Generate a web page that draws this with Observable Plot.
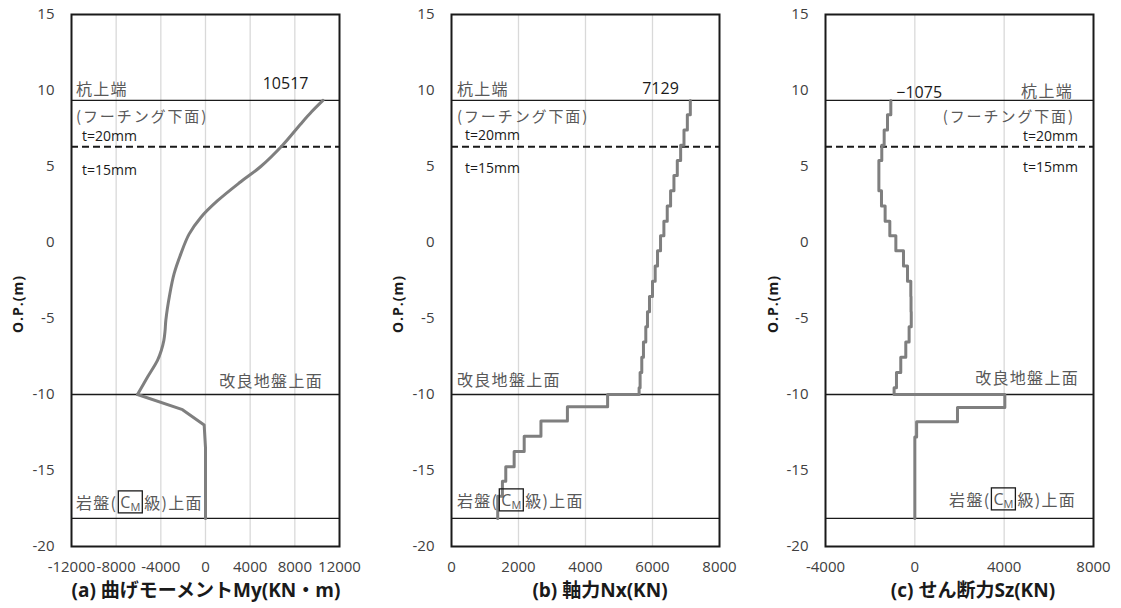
<!DOCTYPE html>
<html><head><meta charset="utf-8">
<script src="https://cdn.jsdelivr.net/npm/d3@7"></script>
<script src="https://cdn.jsdelivr.net/npm/@observablehq/plot@0.6"></script>
<style>
body{margin:0;background:#fff;}
#wrap{position:relative;width:1121px;height:608px;overflow:hidden;background:#fff;}
#wrap svg{position:absolute;top:0;}
</style></head><body><div id="wrap"></div>
<script>
// ---------- data ----------
const yTicks = [-20, -15, -10, -5, 0, 5, 10, 15];
const pileTopLevel = 9.35;       // 杭上端
const thicknessLevel = 6.3;      // t=20mm / t=15mm
const improvedLevel = -10;       // 改良地盤上面
const rockLevel = -18.15;        // 岩盤上面

// (a) bending moment
const momentUpperDepth = [9.35, 8.6, 7.8, 6.4, 5.0, 4.0, 2.75, 1.65, 0.55, -0.75, -2.05, -3.4, -5.1, -5.8, -6.45, -7.1, -7.75, -8.85, -10];
const momentUpperValue = [10517, 9500, 8530, 6900, 4950, 3160, 1080, -420, -1470, -2210, -2810, -3200, -3550, -3620, -3730, -3960, -4300, -5190, -6090];
const momentLowerDepth = [-10, -11, -12, -13.5, -18.15];
const momentLowerValue = [-6090, -2060, -120, 0, 0];

// step boundaries (upper pile part)
const stepDepthUpper = [9.35, 8.4, 7.4, 6.4, 5.4, 4.4, 3.4, 2.4, 1.4, 0.45, -0.55, -1.55, -2.55, -3.55, -4.55, -5.55, -6.55, -7.55, -8.55, -9.55, -10];

// (b) axial force
const axialUpper = [7129, 7040, 6940, 6840, 6740, 6640, 6540, 6440, 6340, 6240, 6150, 6080, 6000, 5910, 5850, 5800, 5730, 5680, 5630, 5600];
const axialLowerDepth = [-10, -10.8, -11.75, -12.75, -13.75, -14.75, -15.7, -16.7, -18.15];
const axialLower = [4660, 3460, 2670, 2170, 1870, 1620, 1520, 1380];

// (c) shear force
const shearUpper = [-1075, -1224, -1373, -1480, -1610, -1610, -1493, -1330, -1120, -850, -508, -328, -180, -170, -160, -256, -405, -630, -822, -928];
const shearLowerDepth = [-10, -10.85, -11.8, -12.8, -18.15];
const shearLower = [4030, 1910, 80, 0];

const xTicksA = [-12000, -8000, -4000, 0, 4000, 8000, 12000];
const xTicksB = [0, 2000, 4000, 6000, 8000];
const xTicksC = [-4000, 0, 4000, 8000];

const titleA = "(a) 曲げモーメントMy(KN・m)";
const titleB = "(b) 軸力Nx(KN)";
const titleC = "(c) せん断力Sz(KN)";
const yTitle = "O.P.(m)";

// ---------- helpers ----------
const FONT = '"Open Sans","Noto Sans CJK JP",sans-serif';
const JFONT = '"Noto Sans CJK JP","Noto Sans",sans-serif';
const CURVE = "#7f7f7f";
const DARK = "#1a1a1a";

function stepPoints(depths, values) {
  const pts = [];
  values.forEach((v, i) => { pts.push({x: v, y: depths[i]}); pts.push({x: v, y: depths[i + 1]}); });
  return pts;
}
function zipPoints(depths, values) { return depths.map((d, i) => ({x: values[i], y: d})); }

const wrap = document.getElementById("wrap");

function panel(cfg) {
  const inner = cfg.xTicks.filter(t => t > cfg.xTicks[0] && t < cfg.xTicks[cfg.xTicks.length - 1]);
  const chart = Plot.plot({
    width: cfg.width, height: 608,
    marginLeft: cfg.ml, marginRight: cfg.mr, marginTop: 14, marginBottom: 62,
    style: {fontFamily: FONT, fontSize: "15px", color: "#404040", background: "transparent", overflow: "visible"},
    x: {domain: [cfg.xTicks[0], cfg.xTicks[cfg.xTicks.length - 1]], ticks: cfg.xTicks, tickFormat: d => String(d), tickSize: 0, tickPadding: 15, label: null},
    y: {domain: [-20, 15], ticks: yTicks, tickFormat: d => String(d), tickSize: 0, tickPadding: 17, label: null},
    marks: [
      Plot.ruleX(inner, {stroke: "#d9d9d9", strokeWidth: 1.3}),
      Plot.ruleY([pileTopLevel, improvedLevel, rockLevel], {stroke: DARK, strokeWidth: 1.3}),
      Plot.ruleY([thicknessLevel], {stroke: DARK, strokeWidth: 2, strokeDasharray: "7,4"}),
      ...cfg.lines,
      Plot.frame({stroke: DARK, strokeWidth: 2})
    ]
  });
  chart.style.left = cfg.left + "px";
  wrap.appendChild(chart);
  const sx = chart.scale("x").apply, sy = chart.scale("y").apply;
  const L = cfg.ml, R = cfg.width - cfg.mr;
  const svg = d3.select(chart);
  const g = svg.append("g").attr("text-anchor", "start");

  function jtext(str, x, y, anchor, size = 16, ls = 1.3) {
    return g.append("text").attr("x", x).attr("y", y).attr("text-anchor", anchor)
      .attr("dominant-baseline", "central").attr("font-family", JFONT).attr("font-size", size)
      .attr("letter-spacing", ls).attr("fill", "#595959").text(str);
  }
  function ltext(str, x, y, anchor, size = 14) {
    return g.append("text").attr("x", x).attr("y", y).attr("text-anchor", anchor)
      .attr("dominant-baseline", "central").attr("font-family", FONT).attr("font-size", size)
      .attr("fill", "#1a1a1a").text(str);
  }
  function rockLabel(x, y, anchor) {
    const rg = g.append("g").attr("text-anchor", "start");
    const base = (str, xx, yy, fam, size, ls) => rg.append("text").attr("x", xx).attr("y", yy)
      .attr("text-anchor", "start").attr("dominant-baseline", "central").attr("font-family", fam)
      .attr("font-size", size).attr("letter-spacing", ls).attr("fill", "#595959").text(str);
    const t1 = base("岩盤(", 0, y, JFONT, 16, 1.3);
    const w1 = t1.node().getComputedTextLength();
    const bx = w1 + 1;
    const c = base("C", bx + 2, y, FONT, 16, 0);
    const wc = c.node().getComputedTextLength();
    const m = base("M", bx + 2 + wc, y + 5, FONT, 11, 0);
    const wm = m.node().getComputedTextLength();
    const bw = wc + wm + 4;
    rg.append("rect").attr("x", bx).attr("y", y - 11).attr("width", bw).attr("height", 22)
      .attr("fill", "none").attr("stroke", DARK).attr("stroke-width", 1.3);
    const t3 = base("級)上面", bx + bw + 2, y, JFONT, 16, 1.3);
    const total = bx + bw + 2 + t3.node().getComputedTextLength();
    rg.attr("transform", `translate(${anchor === "end" ? x - total : x},0)`);
  }
  cfg.annotate({jtext, ltext, rockLabel, sx, sy, L, R});

  // axis titles
  g.append("text").attr("x", (L + R) / 2 + cfg.titleShift).attr("y", 590).attr("text-anchor", "middle")
    .attr("dominant-baseline", "central").attr("font-family", FONT).attr("font-size", 19)
    .attr("font-weight", "bold").attr("fill", "#1a1a1a").text(cfg.title);
  g.append("text").attr("transform", `translate(${cfg.yTitleX},304) rotate(-90)`).attr("text-anchor", "middle")
    .attr("dominant-baseline", "central").attr("font-family", FONT).attr("font-size", 14)
    .attr("letter-spacing", 1).attr("font-weight", "bold").attr("fill", "#1a1a1a").text(yTitle);
  return chart;
}

// (a)
panel({
  left: 0, width: 373, ml: 71, mr: 34, xTicks: xTicksA, title: titleA, titleShift: 1, yTitleX: 17,
  lines: [
    Plot.line(zipPoints(momentUpperDepth, momentUpperValue), {x: "x", y: "y", stroke: CURVE, strokeWidth: 3, curve: "catmull-rom"}),
    Plot.line(zipPoints(momentLowerDepth, momentLowerValue), {x: "x", y: "y", stroke: CURVE, strokeWidth: 3})
  ],
  annotate: ({jtext, ltext, rockLabel, sx, sy, L, R}) => {
    jtext("杭上端", L + 5, sy(pileTopLevel) - 12, "start");
    ltext(String(momentUpperValue[0]), sx(momentUpperValue[0]) - 14, sy(pileTopLevel) - 17, "end", 16);
    jtext("(フーチング下面)", L + 5, sy(pileTopLevel) + 16, "start", 15, 1.9);
    ltext("t=20mm", L + 11, sy(thicknessLevel) - 11, "start");
    ltext("t=15mm", L + 11, sy(thicknessLevel) + 23, "start");
    jtext("改良地盤上面", R - 16, sy(improvedLevel) - 14, "end");
    rockLabel(L + 5, sy(rockLevel) - 16, "start");
  }
});

// (b)
panel({
  left: 373, width: 375, ml: 78, mr: 29, xTicks: xTicksB, title: titleB, titleShift: 15, yTitleX: 24,
  lines: [
    Plot.line(stepPoints(stepDepthUpper, axialUpper).concat(stepPoints(axialLowerDepth, axialLower)), {x: "x", y: "y", stroke: CURVE, strokeWidth: 3})
  ],
  annotate: ({jtext, ltext, rockLabel, sx, sy, L, R}) => {
    jtext("杭上端", L + 6, sy(pileTopLevel) - 12, "start");
    ltext(String(axialUpper[0]), sx(axialUpper[0]) - 11, sy(pileTopLevel) - 12, "end", 16);
    jtext("(フーチング下面)", L + 6, sy(pileTopLevel) + 16, "start", 15, 1.9);
    ltext("t=20mm", L + 14, sy(thicknessLevel) - 12, "start");
    ltext("t=15mm", L + 14, sy(thicknessLevel) + 21, "start");
    jtext("改良地盤上面", L + 6, sy(improvedLevel) - 15, "start");
    rockLabel(L + 6, sy(rockLevel) - 18, "start");
  }
});

// (c)
panel({
  left: 748, width: 373, ml: 77, mr: 28, xTicks: xTicksC, title: titleC, titleShift: 14, yTitleX: 24,
  lines: [
    Plot.line(stepPoints(stepDepthUpper, shearUpper).concat(stepPoints(shearLowerDepth, shearLower)), {x: "x", y: "y", stroke: CURVE, strokeWidth: 3})
  ],
  annotate: ({jtext, ltext, rockLabel, sx, sy, L, R}) => {
    jtext("杭上端", R - 20, sy(pileTopLevel) - 10, "end");
    ltext("\u2212" + Math.abs(shearUpper[0]), sx(shearUpper[0]) + 6, sy(pileTopLevel) - 8, "start", 16);
    jtext("(フーチング下面)", R - 18, sy(pileTopLevel) + 16, "end", 15, 1.9);
    ltext("t=20mm", R - 15, sy(thicknessLevel) - 11, "end");
    ltext("t=15mm", R - 15, sy(thicknessLevel) + 20, "end");
    jtext("改良地盤上面", R - 14, sy(improvedLevel) - 17, "end");
    rockLabel(R - 17, sy(rockLevel) - 19, "end");
  }
});
</script></body></html>
